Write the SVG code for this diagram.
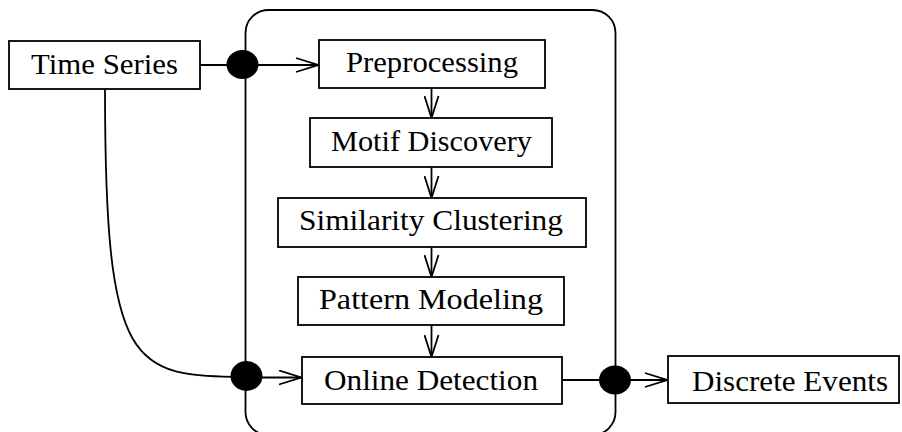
<svg xmlns="http://www.w3.org/2000/svg" width="902" height="432" viewBox="0 0 902 432">
<defs>
<style>
.box{fill:#fff;stroke:#000;stroke-width:1.8}
.lbl{font-family:"Liberation Serif","Times New Roman",serif;font-size:29px;fill:#000;text-anchor:middle}
.ln{fill:none;stroke:#000;stroke-width:1.8}
.dot{fill:#000}
</style>
<marker id="arr" viewBox="0 0 24 16" refX="23" refY="8" markerWidth="24" markerHeight="16" markerUnits="userSpaceOnUse" orient="auto">
<path d="M1,1 L23,8 L1,15" fill="none" stroke="#000" stroke-width="1.8"/>
</marker>
</defs>
<rect width="902" height="432" fill="#fff"/>
<g id="container">
<rect x="245.5" y="10" width="370" height="425" rx="23" ry="23" class="ln"/>
</g>
<g id="connectors">
<path class="ln" d="M200,65 L318,65" marker-end="url(#arr)"/>
<path class="ln" d="M431.5,88 L431.5,118" marker-end="url(#arr)"/>
<path class="ln" d="M431.5,167 L431.5,198" marker-end="url(#arr)"/>
<path class="ln" d="M431.5,247 L431.5,277" marker-end="url(#arr)"/>
<path class="ln" d="M431.5,325 L431.5,357" marker-end="url(#arr)"/>
<path class="ln" d="M105,89 C105,372 132,376 246,377"/>
<path class="ln" d="M246,377.5 L301,377.5" marker-end="url(#arr)"/>
<path class="ln" d="M562,380 L667,380" marker-end="url(#arr)"/>
<ellipse class="dot" cx="242.5" cy="64.5" rx="16" ry="14.5"/>
<ellipse class="dot" cx="246.5" cy="376" rx="16" ry="15"/>
<ellipse class="dot" cx="615" cy="380" rx="16" ry="14.5"/>
</g>
<g id="time-series">
<rect class="box" x="9" y="41" width="191" height="48"/>
<text class="lbl" x="104.5" y="74" textLength="147" lengthAdjust="spacingAndGlyphs">Time Series</text>
</g>
<g id="preprocessing">
<rect class="box" x="319" y="40" width="226" height="48"/>
<text class="lbl" x="432" y="72" textLength="172" lengthAdjust="spacingAndGlyphs">Preprocessing</text>
</g>
<g id="motif-discovery">
<rect class="box" x="310" y="118" width="242" height="49"/>
<text class="lbl" x="431.5" y="151" textLength="201" lengthAdjust="spacingAndGlyphs">Motif Discovery</text>
</g>
<g id="similarity-clustering">
<rect class="box" x="278" y="198" width="308" height="49"/>
<text class="lbl" x="431" y="230" textLength="264" lengthAdjust="spacingAndGlyphs">Similarity Clustering</text>
</g>
<g id="pattern-modeling">
<rect class="box" x="298" y="277" width="266" height="48"/>
<text class="lbl" x="431" y="308.5" textLength="224" lengthAdjust="spacingAndGlyphs">Pattern Modeling</text>
</g>
<g id="online-detection">
<rect class="box" x="302" y="357" width="260" height="47"/>
<text class="lbl" x="431" y="390" textLength="214" lengthAdjust="spacingAndGlyphs">Online Detection</text>
</g>
<g id="discrete-events">
<rect class="box" x="668" y="356" width="231" height="47"/>
<text class="lbl" x="790" y="390.5" textLength="196" lengthAdjust="spacingAndGlyphs">Discrete Events</text>
</g>
</svg>
